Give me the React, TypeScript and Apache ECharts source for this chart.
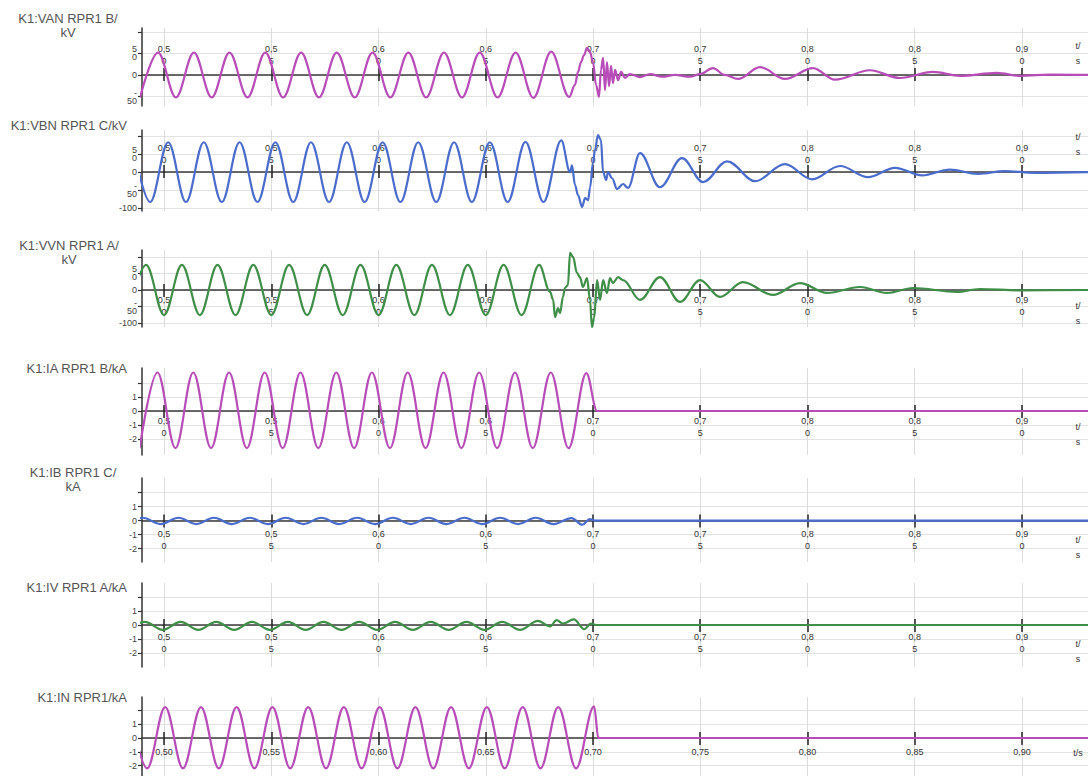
import React, { useEffect, useRef } from "react";
import * as echarts from "echarts";

// ---------- axis ticks / labels ----------
const xTicks = [0.5, 0.55, 0.6, 0.65, 0.7, 0.75, 0.8, 0.85, 0.9];
const xTickLabelsWrapped = ["0,5\n0", "0,5\n5", "0,6\n0", "0,6\n5", "0,7\n0", "0,7\n5", "0,8\n0", "0,8\n5", "0,9\n0"];
const xTickLabelsBottom = ["0,50", "0,55", "0,60", "0,65", "0,70", "0,75", "0,80", "0,85", "0,90"];
const tMin = 0.4897;
const tMax = 0.9308;

const kvTicks = [100, 50, 0, -50, -100];
const kvTickLabels = ["", "5\n0", "0", "-\n50", "-100"];
const kaTicks = [2, 1, 0, -1, -2];
const kaTickLabels = ["", "1", "0", "-1", "-2"];

const titles = [
  "K1:VAN RPR1 B/\nkV",
  "K1:VBN RPR1 C/kV",
  "K1:VVN RPR1 A/\nkV",
  "K1:IA RPR1 B/kA",
  "K1:IB RPR1 C/\nkA",
  "K1:IV RPR1 A/kA",
  "K1:IN RPR1/kA",
];
const axisNames = ["t/\ns", "t/\ns", "t/\ns", "t/\ns", "t/\ns", "t/\ns", "t/s"];

// ---------- series values [t (s), value] ----------
const vanData = [
  [0.4888, -52], [0.4972, 52], [0.5055, -52], [0.5139, 52], [0.5222, -52], [0.5305, 52], [0.5389, -52],
  [0.5472, 52], [0.5555, -52], [0.5639, 52], [0.5722, -52], [0.5805, 52], [0.5889, -52], [0.5972, 52],
  [0.6055, -52], [0.6139, 52], [0.6222, -52], [0.6305, 52], [0.6389, -52], [0.6472, 52], [0.6555, -52],
  [0.6639, 52], [0.6722, -53], [0.6805, 54], [0.6889, -51], [0.6916, -23], [0.693, 7], [0.6944, 30],
  [0.6958, 46], [0.6972, 63], [0.6986, 53], [0.7, 30], [0.7014, -23], [0.7028, -51], [0.7037, 12],
  [0.7047, 40], [0.7056, -35], [0.7065, 30], [0.7075, -26], [0.7084, 21], [0.7093, -19], [0.7103, 12],
  [0.7117, -12], [0.7131, 7], [0.7149, -7], [0.7172, 2], [0.7219, -5], [0.7266, 2], [0.7322, -4],
  [0.7382, 0], [0.7452, -4], [0.7499, 2], [0.7559, 16], [0.7615, 0], [0.7676, -9], [0.7779, 18],
  [0.7895, -9], [0.8026, 16], [0.8128, -11], [0.8291, 11], [0.8431, -7], [0.8585, 7], [0.8711, -2],
  [0.8883, 5], [0.8991, -2], [0.9131, 1], [0.9308, 0],
];
const vbnData = [
  [0.4852, 83], [0.4935, -83], [0.5019, 83], [0.5102, -83], [0.5185, 83], [0.5269, -83], [0.5352, 83],
  [0.5435, -83], [0.5519, 83], [0.5602, -83], [0.5685, 83], [0.5769, -83], [0.5852, 83], [0.5935, -83],
  [0.6019, 83], [0.6102, -83], [0.6185, 83], [0.6269, -83], [0.6352, 83], [0.6435, -83], [0.6519, 83],
  [0.6602, -83], [0.6685, 84], [0.6769, -83], [0.6852, 88], [0.6893, 0], [0.6902, 19], [0.6916, -36],
  [0.693, -64], [0.6949, -97], [0.6963, -72], [0.6977, -78], [0.6986, -44], [0.7, 28], [0.7009, 61],
  [0.7023, 103], [0.7037, 89], [0.7047, 0], [0.7061, -22], [0.707, 0], [0.7089, -17], [0.7112, -47],
  [0.714, -33], [0.7163, -44], [0.7219, 53], [0.7312, -42], [0.7415, 39], [0.7513, -28], [0.7625, 30],
  [0.7756, -25], [0.7895, 22], [0.8021, -20], [0.8152, 17], [0.8282, -14], [0.8408, 12], [0.8534, -9],
  [0.8664, 7], [0.8795, -5], [0.8921, 3], [0.9061, -2], [0.9308, 0],
];
const vvnData = [
  [0.4833, -76], [0.4916, 76], [0.5, -76], [0.5083, 76], [0.5167, -76], [0.5249, 76], [0.5333, -76],
  [0.5416, 76], [0.55, -76], [0.5583, 76], [0.5667, -76], [0.5749, 76], [0.5833, -76], [0.5916, 76],
  [0.6, -76], [0.6083, 76], [0.6167, -76], [0.6249, 76], [0.6333, -76], [0.6416, 76], [0.65, -76],
  [0.6583, 76], [0.6667, -76], [0.6749, 76], [0.68, -6], [0.6814, -30], [0.6823, -82], [0.6837, -55],
  [0.6846, -70], [0.686, -21], [0.6869, 6], [0.6883, 15], [0.6893, 112], [0.6907, 100], [0.6925, 52],
  [0.6939, 39], [0.6953, 9], [0.6972, 36], [0.6986, -30], [0.6995, -112], [0.7005, -85], [0.7019, 30],
  [0.7033, -30], [0.7047, 30], [0.7065, -9], [0.7079, 36], [0.7093, 21], [0.7117, 39], [0.714, 30],
  [0.7219, -30], [0.7312, 39], [0.7406, -36], [0.7499, 30], [0.7592, -21], [0.7699, 24], [0.7839, -15],
  [0.7965, 21], [0.8091, -9], [0.8245, 9], [0.8371, -9], [0.8492, 6], [0.8697, -6], [0.8804, 3],
  [0.8991, -1], [0.9308, 0],
];
const iaData = [
  [0.4886, -2.65], [0.4969, 2.75], [0.5053, -2.65], [0.5136, 2.75], [0.5219, -2.65], [0.5303, 2.75],
  [0.5386, -2.65], [0.5469, 2.75], [0.5553, -2.65], [0.5636, 2.75], [0.5719, -2.65], [0.5803, 2.75],
  [0.5886, -2.65], [0.5969, 2.75], [0.6053, -2.65], [0.6136, 2.75], [0.6219, -2.65], [0.6303, 2.75],
  [0.6386, -2.65], [0.6469, 2.75], [0.6553, -2.65], [0.6636, 2.75], [0.6719, -2.65], [0.6803, 2.75],
  [0.6886, -2.65], [0.6969, 2.7], [0.7019, 0], [0.9308, 0],
];
const ibData = [
  [0.4817, -0.25], [0.49, 0.2], [0.4983, -0.25], [0.5067, 0.2], [0.515, -0.25], [0.5233, 0.2],
  [0.5317, -0.25], [0.54, 0.2], [0.5483, -0.25], [0.5567, 0.2], [0.565, -0.25], [0.5733, 0.2],
  [0.5817, -0.25], [0.59, 0.2], [0.5983, -0.25], [0.6067, 0.2], [0.615, -0.25], [0.6233, 0.2],
  [0.6317, -0.25], [0.64, 0.2], [0.6483, -0.25], [0.6567, 0.2], [0.665, -0.25], [0.6733, 0.2],
  [0.6817, -0.25], [0.69, 0.18], [0.695, -0.3], [0.6985, 0.1], [0.701, 0], [0.9308, 0],
];
const ivData = [
  [0.4827, -0.35], [0.491, 0.22], [0.4994, -0.35], [0.5077, 0.22], [0.516, -0.35], [0.5243, 0.22],
  [0.5327, -0.35], [0.541, 0.22], [0.5494, -0.35], [0.5577, 0.22], [0.566, -0.35], [0.5743, 0.22],
  [0.5827, -0.35], [0.591, 0.22], [0.5994, -0.35], [0.6077, 0.22], [0.616, -0.35], [0.6243, 0.22],
  [0.6327, -0.35], [0.641, 0.22], [0.6494, -0.35], [0.6577, 0.22], [0.666, -0.35], [0.6743, 0.3],
  [0.68, -0.1], [0.683, 0.35], [0.686, 0.1], [0.691, 0.4], [0.696, -0.3], [0.699, 0.1], [0.7014, 0],
  [0.9308, 0],
];
const inData = [
  [0.4838, 2.25], [0.4921, -2.2], [0.5005, 2.25], [0.5088, -2.2], [0.5172, 2.25], [0.5255, -2.2],
  [0.5338, 2.25], [0.5421, -2.2], [0.5505, 2.25], [0.5588, -2.2], [0.5672, 2.25], [0.5755, -2.2],
  [0.5838, 2.25], [0.5921, -2.2], [0.6005, 2.25], [0.6088, -2.2], [0.6172, 2.25], [0.6255, -2.2],
  [0.6338, 2.25], [0.6421, -2.2], [0.6505, 2.25], [0.6588, -2.2], [0.6672, 2.25], [0.6755, -2.2],
  [0.6838, 2.25], [0.6921, -2.2], [0.7005, 2.3], [0.7025, 0], [0.9308, 0],
];

const MAGENTA = "#b84cb8";
const BLUE = "#4a6ccc";
const GREEN = "#3f8f48";

const seriesData = [vanData, vbnData, vvnData, iaData, ibData, ivData, inData];
const seriesColors = [MAGENTA, BLUE, GREEN, MAGENTA, BLUE, GREEN, MAGENTA];
const yTickSets = [kvTicks, kvTicks, kvTicks, kaTicks, kaTicks, kaTicks, kaTicks];
const yLabelSets = [kvTickLabels, kvTickLabels, kvTickLabels, kaTickLabels, kaTickLabels, kaTickLabels, kaTickLabels];

// ---------- layout (positions / ranges) ----------
const layout = [
  { top: 28, height: 78, min: -72, max: 109, above: true, lm: 14.5, namePad: 6, tx: 68, ty: 11, ta: "center" },
  { top: 130, height: 81, min: -108, max: 117, above: true, lm: 12, namePad: 13, tx: 127, ty: 118, ta: "right" },
  { top: 250, height: 77, min: -112, max: 121, above: false, lm: 9.5, namePad: 9, tx: 69, ty: 238, ta: "center" },
  { top: 368, height: 87, min: -3.14, max: 3.07, above: false, lm: 16, namePad: 8, tx: 127, ty: 361, ta: "right" },
  { top: 478, height: 84, min: -2.96, max: 3.04, above: false, lm: 10, namePad: 12, tx: 73, ty: 465, ta: "center" },
  { top: 583, height: 84, min: -3, max: 3, above: false, lm: 12, namePad: 11, tx: 127, ty: 580, ta: "right" },
  { top: 697, height: 79, min: -2.76, max: 2.98, above: false, lm: 18, namePad: 7, tx: 127, ty: 690, ta: "right" },
];

const FONT = '"Liberation Sans", Arial, sans-serif';

function buildOption() {
  const grid: any[] = [];
  const xAxis: any[] = [];
  const yAxis: any[] = [];
  const series: any[] = [];
  const graphic: any[] = [];

  layout.forEach((L, i) => {
    grid.push({ left: 142, right: 0, top: L.top, height: L.height, outerBoundsMode: "none", containLabel: false });
    const xLabels = i === 6 ? xTickLabelsBottom : xTickLabelsWrapped;
    const fmtX = (v: number) => {
      const k = xTicks.findIndex((t) => Math.abs(t - v) < 1e-6);
      return k >= 0 ? xLabels[k] : "";
    };
    xAxis.push({
      type: "value",
      gridIndex: i,
      min: tMin,
      max: tMax,
      position: L.above ? "top" : "bottom",
      axisLine: { show: true, onZero: true, onZeroAxisIndex: i, lineStyle: { color: "#3a3a3a", width: 1.5 } },
      axisTick: { show: true, inside: false, length: 7, customValues: xTicks, lineStyle: { color: "#222", width: 1.5 } },
      axisLabel: {
        show: true,
        customValues: xTicks,
        formatter: fmtX,
        inside: true,
        margin: L.lm,
        fontSize: 9,
        lineHeight: 12,
        color: "#333",
        fontFamily: FONT,
        hideOverlap: false,
        showMinLabel: true,
        showMaxLabel: true,
      },
      splitLine: { show: true, lineStyle: { color: "#dcdcdc", width: 1 } },
      name: axisNames[i],
      nameLocation: "end",
      nameGap: -10,
      nameMoveOverlap: false,
      nameTextStyle: {
        fontSize: 9,
        color: "#333",
        fontFamily: FONT,
        lineHeight: 15,
        align: "center",
        verticalAlign: L.above ? "bottom" : "top",
        padding: L.above ? [0, 0, L.namePad, 0] : [L.namePad, 0, 0, 0],
      },
    });
    xAxis.push({
      type: "value",
      gridIndex: i,
      min: tMin,
      max: tMax,
      position: L.above ? "top" : "bottom",
      axisLine: { show: false, onZero: true, onZeroAxisIndex: i },
      axisTick: { show: true, inside: true, length: 6, customValues: xTicks, lineStyle: { color: "#222", width: 1.5 } },
      axisLabel: { show: false },
      splitLine: { show: false },
    });
    const ticks = yTickSets[i].filter((v) => v >= L.min && v <= L.max);
    const labs = yLabelSets[i];
    const tickSet = yTickSets[i];
    yAxis.push({
      type: "value",
      gridIndex: i,
      min: L.min,
      max: L.max,
      axisLine: { show: true, onZero: false, lineStyle: { color: "#333", width: 1.5 } },
      axisTick: { show: true, length: 4, customValues: ticks, lineStyle: { color: "#333", width: 1.2 } },
      axisLabel: {
        show: true,
        customValues: ticks,
        formatter: (v: number) => {
          const k = tickSet.findIndex((t) => Math.abs(t - v) < 1e-6);
          return k >= 0 ? labs[k] : "";
        },
        fontSize: 9,
        lineHeight: 8,
        color: "#444",
        margin: 5,
        fontFamily: FONT,
        showMinLabel: true,
        showMaxLabel: true,
        hideOverlap: false,
      },
      splitLine: { show: true, lineStyle: { color: "#e2e2e2", width: 1 } },
    });
    series.push({
      type: "line",
      name: titles[i],
      xAxisIndex: i * 2,
      yAxisIndex: i,
      data: seriesData[i],
      showSymbol: false,
      symbol: "none",
      smooth: 0.36,
      smoothMonotone: "x",
      clip: true,
      silent: true,
      lineStyle: { color: seriesColors[i], width: 2.2 },
      z: 3,
    });
    graphic.push({
      type: "text",
      x: L.tx,
      y: L.ty,
      style: {
        text: titles[i],
        fill: "#555",
        font: `13px ${FONT}`,
        align: L.ta,
        verticalAlign: "top",
        lineHeight: 14,
      },
    });
  });

  return {
    animation: false,
    backgroundColor: "#ffffff",
    grid,
    xAxis,
    yAxis,
    series,
    graphic,
  };
}

export default function App() {
  const ref = useRef<HTMLDivElement>(null);
  useEffect(() => {
    if (!ref.current) return;
    const chart = echarts.init(ref.current, null, { renderer: "svg" });
    chart.setOption(buildOption() as any);
    return () => chart.dispose();
  }, []);
  return (
    <div
      ref={ref}
      style={{ position: "absolute", left: 0, top: 0, width: 1088, height: 776, background: "#fff" }}
    />
  );
}
